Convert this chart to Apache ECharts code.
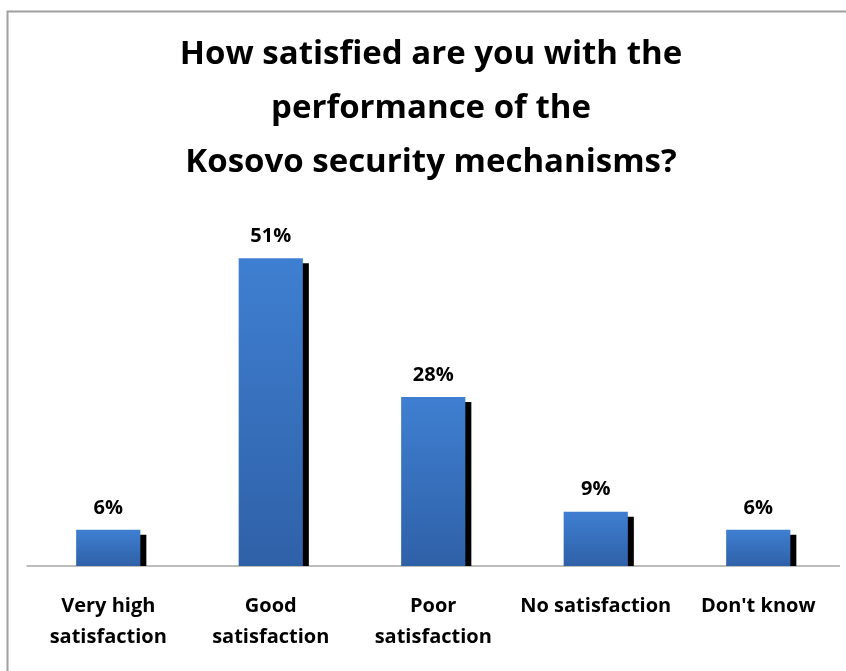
<!DOCTYPE html>
<html><head><meta charset="utf-8">
<script src="https://cdn.jsdelivr.net/npm/echarts@6/dist/echarts.min.js"></script>
<style>html,body{margin:0;padding:0;background:#fff}#c{width:846px;height:671px}</style>
</head><body><div id="c"></div>
<script>
const categories = ['Very high\nsatisfaction', 'Good\nsatisfaction', 'Poor\nsatisfaction', 'No satisfaction', "Don't know"];
const values = [6, 51, 28, 9, 6];
const titleText = 'How satisfied are you with the\nperformance of the\nKosovo security mechanisms?';

const FONT = 'Open Sans';
const chart = echarts.init(document.getElementById('c'), null, {renderer: 'canvas'});
const barGrad = new echarts.graphic.LinearGradient(0, 0, 0, 1, [
  {offset: 0, color: '#3F7FD1'},
  {offset: 1, color: '#2F61A8'}
]);
chart.setOption({
  backgroundColor: '#fff',
  animation: false,
  title: {
    text: titleText,
    left: 426,
    textAlign: 'center',
    top: 23,
    textStyle: {fontFamily: FONT, fontWeight: 'bold', fontSize: 33, color: '#000', lineHeight: 54}
  },
  graphic: [{
    type: 'polyline',
    shape: {points: [[7.5, 680], [7.5, 11.5], [860, 11.5]]},
    style: {stroke: '#a0a0a0', lineWidth: 2, fill: null},
    silent: true
  }],
  grid: {left: 27, right: 6.5, top: 204, bottom: 105, containLabel: false},
  xAxis: {
    type: 'category',
    data: categories,
    axisLine: {show: true, lineStyle: {color: '#a6a6a6', width: 1.5}},
    axisTick: {show: false},
    axisLabel: {
      interval: 0, margin: 25, color: '#000', fontFamily: FONT, fontWeight: 'bold',
      fontSize: 20, lineHeight: 31
    }
  },
  yAxis: {type: 'value', min: 0, max: 60, show: false, splitLine: {show: false}},
  series: [{
    type: 'custom',
    data: values.map((v, i) => [i, v]),
    encode: {x: 0, y: 1},
    z: 2,
    renderItem: function (params, api) {
      const top = api.coord([api.value(0), api.value(1)]);
      const base = api.coord([api.value(0), 0]);
      const bw = api.size([1, 0])[0] * 0.395;
      const x = top[0] - bw / 2;
      return {
        type: 'group',
        children: [
          {type: 'rect', shape: {x: x + 6, y: top[1] + 5, width: bw, height: Math.max(0, base[1] - top[1] - 5)}, style: {fill: '#000'}},
          {type: 'rect', shape: {x: x, y: top[1], width: bw, height: base[1] - top[1]}, style: {fill: barGrad}}
        ]
      };
    }
  }, {
    type: 'bar',
    data: values,
    barWidth: '39.5%',
    z: 1,
    silent: true,
    itemStyle: {color: 'rgba(0,0,0,0)'},
    label: {
      show: true, position: 'top', distance: 12,
      formatter: '{c}%', color: '#000', fontFamily: FONT, fontWeight: 'bold', fontSize: 20
    }
  }]
});
</script></body></html>
